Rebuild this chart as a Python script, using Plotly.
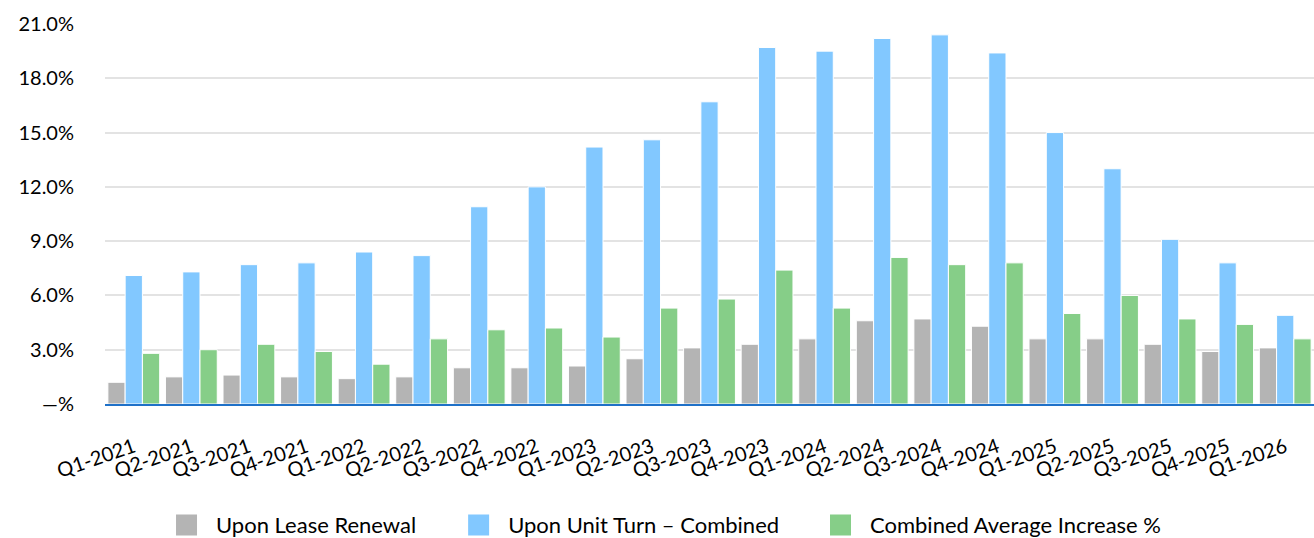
import plotly.graph_objects as go

categories = ["Q1-2021", "Q2-2021", "Q3-2021", "Q4-2021", "Q1-2022", "Q2-2022",
              "Q3-2022", "Q4-2022", "Q1-2023", "Q2-2023", "Q3-2023", "Q4-2023",
              "Q1-2024", "Q2-2024", "Q3-2024", "Q4-2024", "Q1-2025", "Q2-2025",
              "Q3-2025", "Q4-2025", "Q1-2026"]

lease_renewal = [1.2, 1.5, 1.6, 1.5, 1.4, 1.5, 2.0, 2.0, 2.1, 2.5, 3.1, 3.3,
                 3.6, 4.6, 4.7, 4.3, 3.6, 3.6, 3.3, 2.9, 3.1]
unit_turn = [7.1, 7.3, 7.7, 7.8, 8.4, 8.2, 10.9, 12.0, 14.2, 14.6, 16.7, 19.7,
             19.5, 20.2, 20.4, 19.4, 15.0, 13.0, 9.1, 7.8, 4.9]
combined_avg = [2.8, 3.0, 3.3, 2.9, 2.2, 3.6, 4.1, 4.2, 3.7, 5.3, 5.8, 7.4,
                5.3, 8.1, 7.7, 7.8, 5.0, 6.0, 4.7, 4.4, 3.6]

series_names = ["Upon Lease Renewal", "Upon Unit Turn \u2013 Combined", "Combined Average Increase %"]
series_values = [lease_renewal, unit_turn, combined_avg]
series_colors = ["#B4B4B4", "#82C8FF", "#86CE88"]
legend_ids = ["legend", "legend2", "legend3"]
legend_x = [0.1195, 0.3418, 0.6172]

y_tickvals = [0, 3, 6, 9, 12, 15, 18, 21]
y_ticktext = ["\u2014%", "3.0%", "6.0%", "9.0%", "12.0%", "15.0%", "18.0%", "21.0%"]

FONT = "Lato"

fig = go.Figure()
for name, vals, col in zip(series_names, series_values, series_colors):
    fig.add_trace(go.Bar(
        x=categories, y=vals, name=name, showlegend=False,
        marker=dict(color=col, line=dict(color="white", width=1)),
    ))
# legend proxies
for name, col, lid in zip(series_names, series_colors, legend_ids):
    fig.add_trace(go.Scatter(
        x=[None], y=[None], mode="markers", name=name, legend=lid,
        marker=dict(symbol="square", size=16, color=col, line=dict(color=col, width=5)),
    ))

legend_common = dict(orientation="h", xref="container", yref="container",
                     y=0.024, yanchor="middle", xanchor="left", itemwidth=49,
                     font=dict(family=FONT, size=22, color="#000000"),
                     bgcolor="rgba(0,0,0,0)", borderwidth=0)

fig.update_layout(
    width=1314, height=538,
    margin=dict(l=105, r=0, t=24, b=134, autoexpand=False),
    paper_bgcolor="white", plot_bgcolor="white",
    barmode="group", bargap=0.1, bargroupgap=0,
    font=dict(family=FONT, color="#000000"),
    legend=dict(x=legend_x[0], **legend_common),
    legend2=dict(x=legend_x[1], **legend_common),
    legend3=dict(x=legend_x[2], **legend_common),
    xaxis=dict(
        type="category", showline=True, linecolor="#1F71C8", linewidth=2,
        showgrid=False, tickangle=-19, ticks="", automargin=False,
        ticklabelstandoff=22,
        tickfont=dict(family=FONT, size=20, color="#000000"),
    ),
    yaxis=dict(
        range=[0, 21], tickvals=y_tickvals, ticktext=y_ticktext, automargin=False,
        showgrid=True, gridcolor="#E3E3E3", gridwidth=1.5, zeroline=False,
        showline=False, ticks="", ticklabelstandoff=30,
        tickfont=dict(family=FONT, size=20, color="#000000"),
    ),
)

fig.write_html("out.html")
